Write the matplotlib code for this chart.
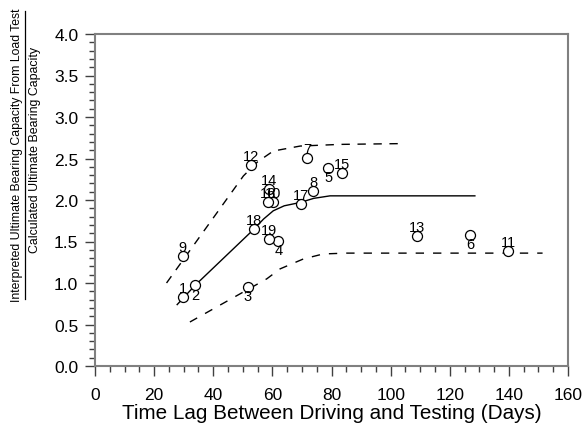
import matplotlib
matplotlib.use("Agg")
import matplotlib.pyplot as plt
from matplotlib.lines import Line2D
from matplotlib.ticker import MultipleLocator

plt.rcParams['font.family'] = ['Liberation Sans', 'DejaVu Sans']

# Data points (days, ratio) and labels
labels = ['1', '2', '3', '4', '5', '6', '7', '8', '9', '10',
          '11', '12', '13', '14', '15', '16', '17', '18', '19']
days = [29.7, 33.8, 51.7, 62.0, 78.9, 126.9, 71.8, 73.9, 29.7, 60.3,
        139.8, 52.8, 108.8, 59.0, 83.7, 58.6, 69.6, 53.8, 59.0]
ratio = [0.83, 0.97, 0.95, 1.51, 2.39, 1.58, 2.51, 2.11, 1.32, 1.97,
         1.38, 2.42, 1.57, 2.13, 2.33, 1.97, 1.95, 1.65, 1.53]
label_pos = ['above', 'below', 'below', 'below', 'below', 'below', 'above', 'above', 'above', 'above',
             'above', 'above', 'above', 'above', 'above', 'above', 'above', 'above', 'above']

# Trend line (solid) and bounds (dashed)
mean_x = [27.8, 33.8, 53.8, 57.0, 60.3, 64.0, 69.4, 74.0, 79.5, 128.5]
mean_y = [0.74, 0.97, 1.65, 1.77, 1.87, 1.93, 1.97, 2.02, 2.05, 2.05]
upper_x = [24.2, 50.2, 55.0, 60.3, 69.4, 82.9, 104.9]
upper_y = [1.00, 2.29, 2.46, 2.59, 2.65, 2.67, 2.68]
lower_x = [32.1, 58.1, 62.6, 70.5, 77.2, 85.0, 151.4]
lower_y = [0.53, 1.05, 1.17, 1.29, 1.35, 1.36, 1.36]

W, H = 583, 431
fig = plt.figure(figsize=(W / 100, H / 100), dpi=100)
ax = fig.add_axes([95 / W, 1 - 367 / H, (568 - 95) / W, (367 - 35) / H])

ax.plot(mean_x, mean_y, color='black', lw=1.0)
ax.plot(upper_x, upper_y, color='black', lw=1.0, dashes=(6, 5.5))
ax.plot(lower_x, lower_y, color='black', lw=1.0, dashes=(6, 6.5))
ax.plot(days, ratio, 'o', ms=7.2, mfc='white', mec='black', mew=0.9, ls='none', zorder=3)

for lab, x, y, p in zip(labels, days, ratio, label_pos):
    if p == 'above':
        ax.annotate(lab, (x, y), xytext=(0, 1.5), textcoords='offset points',
                    ha='center', va='bottom', fontsize=10.5, zorder=4)
    else:
        ax.annotate(lab, (x, y), xytext=(0, -1.5), textcoords='offset points',
                    ha='center', va='top', fontsize=10.5, zorder=4)

ax.set_xlim(0, 160)
ax.set_ylim(0, 4.0)
ax.xaxis.set_major_locator(MultipleLocator(20))
ax.xaxis.set_minor_locator(MultipleLocator(5))
ax.yaxis.set_major_locator(MultipleLocator(0.5))
ax.yaxis.set_minor_locator(MultipleLocator(0.1))
ax.yaxis.set_major_formatter(matplotlib.ticker.FormatStrFormatter('%.1f'))
ax.tick_params(which='major', direction='out', length=7, width=1.0, color='#404040',
               labelsize=12.5, pad=5, top=False, right=False)
ax.tick_params(axis='x', which='major', pad=8)
ax.tick_params(which='minor', direction='out', length=4, width=1.0, color='#404040',
               top=False, right=False)
for s in ax.spines.values():
    s.set_color('#808080')
    s.set_linewidth(1.5)

ax.set_xlabel('Time Lag Between Driving and Testing (Days)', fontsize=14.9, labelpad=1)

fig.text(17 / W, 1 - 155 / H, 'Interpreted Ultimate Bearing Capacity From Load Test',
         rotation=90, ha='center', va='center', fontsize=8.8)
fig.text(35 / W, 1 - 150 / H, 'Calculated Ultimate Bearing Capacity',
         rotation=90, ha='center', va='center', fontsize=8.9)
fig.add_artist(Line2D([25 / W, 25 / W], [1 - 12 / H, 1 - 300 / H], color='black', lw=0.9,
                      transform=fig.transFigure))

fig.savefig('out.png', dpi=100)
